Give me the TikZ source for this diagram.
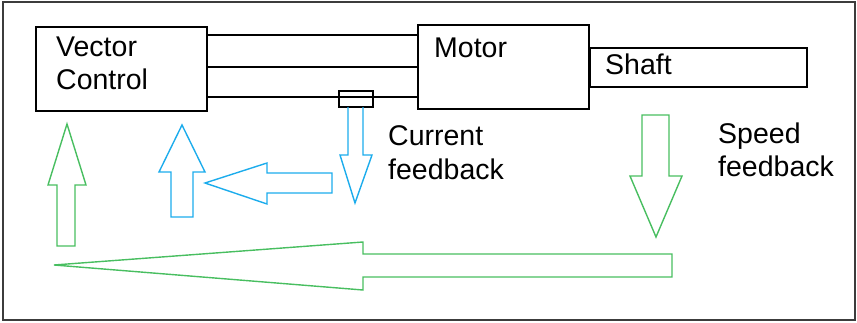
\documentclass[tikz,border=0pt]{standalone}
\usepackage{fontspec}
\setmainfont{Liberation Sans}
\definecolor{fbblue}{RGB}{28,172,236}
\definecolor{fbgreen}{RGB}{72,190,96}
\definecolor{frame}{RGB}{60,60,60}
\begin{document}
\begin{tikzpicture}[x=1pt,y=-1pt,
  box/.style={draw=black,line width=1.6pt,rectangle,inner sep=0pt},
  lbl/.style={anchor=base west,inner sep=0pt,font=\fontsize{28.5}{34}\selectfont,text=black},
  wire/.style={draw=black,line width=1.6pt},
  bluearrow/.style={draw=fbblue,line width=1.4pt,line join=miter},
  greenarrow/.style={draw=fbgreen,line width=1.4pt,line join=miter}]
\useasboundingbox (0,0) rectangle (857,322);
\draw[frame,line width=2pt] (2.5,1.5) rectangle (855,320);
% boxes
\node[box,minimum width=171pt,minimum height=84pt] (vc) at (121.5,69) {};
\node[box,minimum width=171pt,minimum height=84pt] (motor) at (503.5,67) {};
\node[box,minimum width=217pt,minimum height=39pt] (shaft) at (698.5,67.5) {};
\node[lbl] (t1) at (56,56) {Vector};
\node[lbl] (t2) at (56,89) {Control};
\node[lbl] (t3) at (434,57) {Motor};
\node[lbl] (t4) at (605,74) {Shaft};
% wires
\draw[wire] (vc.east |- 0,35) -- (motor.west |- 0,35);
\draw[wire] (vc.east |- 0,67) -- (motor.west |- 0,67);
\draw[wire] (vc.east |- 0,97) -- (motor.west |- 0,97);
\node[box,minimum width=34pt,minimum height=16pt] (sensor) at (356,99) {};
% labels
\node[lbl] (t5) at (388,145) {Current};
\node[lbl] (t6) at (388,179) {feedback};
\node[lbl] (t7) at (718,143) {Speed};
\node[lbl] (t8) at (718,176) {feedback};
% blue down arrow
\draw[bluearrow] (348,107) -- (348,155) -- (340,155) -- (355,203) -- (372,155) -- (363,155) -- (363,107);
% blue left arrow
\draw[bluearrow] (332,173) -- (267,173) -- (267,163) -- (205,183) -- (267,204) -- (267,193) -- (332,193) -- cycle;
% blue up arrow
\draw[bluearrow] (171,217) -- (171,172) -- (159,172) -- (182,125) -- (205,172) -- (193,172) -- (193,217) -- cycle;
% green up arrow
\draw[greenarrow] (57,246) -- (57,185) -- (48,185) -- (67,124) -- (86,185) -- (75,185) -- (75,246) -- cycle;
% green down arrow
\draw[greenarrow] (642,115) -- (642,176) -- (630,176) -- (656,237) -- (682,176) -- (669,176) -- (669,115) -- cycle;
% big green left arrow
\draw[greenarrow] (672,254) -- (363,254) -- (363,242) -- (54,265) -- (363,290) -- (363,277) -- (672,277) -- cycle;
\end{tikzpicture}
\end{document}
